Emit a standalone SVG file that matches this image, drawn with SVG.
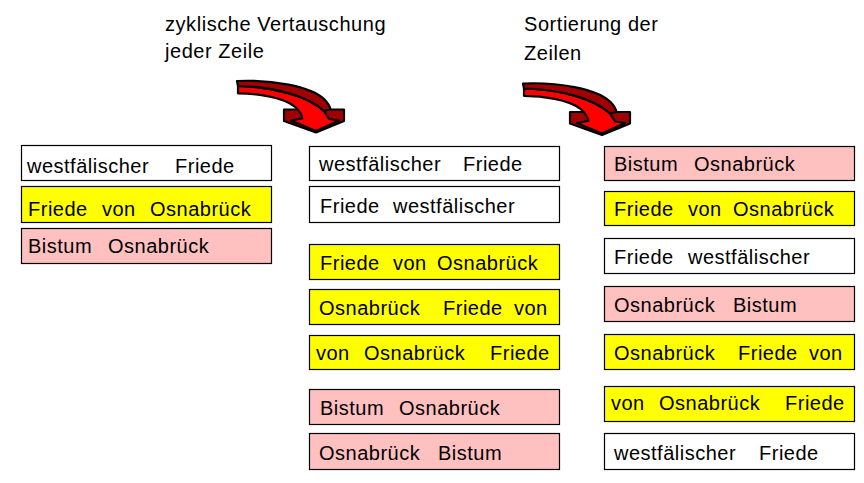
<svg xmlns="http://www.w3.org/2000/svg" width="864" height="483" viewBox="0 0 864 483">
  <style>
    .box rect { stroke: #000; stroke-width: 1.2; }
    .w rect { fill: #ffffff; }
    .y rect { fill: #ffff00; }
    .p rect { fill: #ffc0c0; }
    .box text { font-family: "Liberation Sans", Arial, sans-serif; font-size: 20px; letter-spacing: 0.5px; fill: #000; }
    .head { font-family: "Liberation Sans", Arial, sans-serif; font-size: 20px; letter-spacing: 0.55px; fill: #000; }
  </style>
  <defs>
    <!-- curved 3D arrow: dark head, bright shaft, dark top band -->
    <g id="bigArrow" stroke="#000" stroke-width="2.2" stroke-linejoin="round">
      <polygon points="52,34.5 112,34.5 112,46 84,57.5 52,46" fill="#a00000"/>
      <path d="M 6,11 C 40,12 75,20 92,36 L 97,44 L 107,45.5 L 84,56 L 59,45.5 L 70.3,43.5 C 70,40 68,36 62,31 C 50,22 25,18.5 6,18.3 Z" fill="#ff0000"/>
      <path d="M 5,6 C 40,4.5 78,11 92,24 C 96,28 98,32 98.5,34.5 L 92,36 C 75,20 40,12 6,11 Z" fill="#a00000"/>
    </g>
  </defs>

  <!-- headings -->
  <text class="head" x="165" y="31">zyklische Vertauschung</text>
  <text class="head" x="165" y="58">jeder Zeile</text>
  <text class="head" x="524" y="31">Sortierung der</text>
  <text class="head" x="524" y="60">Zeilen</text>

  <g id="connectors">
    <use href="#bigArrow" x="232" y="75"/>
    <use href="#bigArrow" x="518" y="77.5"/>
  </g>

  <!-- input lines -->
  <g id="in1" class="box w"><rect x="21.5" y="145.5" width="250" height="35"/><text y="173"><tspan x="27">westfälischer</tspan><tspan x="175">Friede</tspan></text></g>
  <g id="in2" class="box y"><rect x="21.5" y="186.5" width="250" height="36"/><text y="216"><tspan x="28">Friede</tspan><tspan x="102">von</tspan><tspan x="150">Osnabrück</tspan></text></g>
  <g id="in3" class="box p"><rect x="21.5" y="228.5" width="250" height="35"/><text y="253"><tspan x="28">Bistum</tspan><tspan x="108">Osnabrück</tspan></text></g>

  <!-- rotations -->
  <g id="rot1" class="box w"><rect x="309.5" y="146.5" width="250" height="34"/><text y="171"><tspan x="319">westfälischer</tspan><tspan x="463">Friede</tspan></text></g>
  <g id="rot2" class="box w"><rect x="309.5" y="186.5" width="250" height="36"/><text y="213"><tspan x="320">Friede</tspan><tspan x="393">westfälischer</tspan></text></g>
  <g id="rot3" class="box y"><rect x="309.5" y="244.5" width="250" height="35"/><text y="270"><tspan x="320">Friede</tspan><tspan x="393">von</tspan><tspan x="437">Osnabrück</tspan></text></g>
  <g id="rot4" class="box y"><rect x="309.5" y="289.5" width="250" height="35"/><text y="315"><tspan x="319">Osnabrück</tspan><tspan x="443">Friede</tspan><tspan x="514">von</tspan></text></g>
  <g id="rot5" class="box y"><rect x="309.5" y="335.5" width="250" height="34"/><text y="360"><tspan x="316">von</tspan><tspan x="364">Osnabrück</tspan><tspan x="490">Friede</tspan></text></g>
  <g id="rot6" class="box p"><rect x="309.5" y="389.5" width="250" height="35"/><text y="415"><tspan x="320">Bistum</tspan><tspan x="399">Osnabrück</tspan></text></g>
  <g id="rot7" class="box p"><rect x="309.5" y="433.5" width="250" height="36"/><text y="460"><tspan x="319">Osnabrück</tspan><tspan x="438">Bistum</tspan></text></g>

  <!-- sorted rotations -->
  <g id="srt1" class="box p"><rect x="604.5" y="146.5" width="250" height="34"/><text y="171"><tspan x="614">Bistum</tspan><tspan x="694">Osnabrück</tspan></text></g>
  <g id="srt2" class="box y"><rect x="604.5" y="191.5" width="250" height="34"/><text y="216"><tspan x="614">Friede</tspan><tspan x="688">von</tspan><tspan x="733">Osnabrück</tspan></text></g>
  <g id="srt3" class="box w"><rect x="604.5" y="238.5" width="250" height="35"/><text y="264"><tspan x="614">Friede</tspan><tspan x="688">westfälischer</tspan></text></g>
  <g id="srt4" class="box p"><rect x="604.5" y="286.5" width="250" height="35"/><text y="312"><tspan x="614">Osnabrück</tspan><tspan x="733">Bistum</tspan></text></g>
  <g id="srt5" class="box y"><rect x="604.5" y="334.5" width="250" height="35"/><text y="360"><tspan x="614">Osnabrück</tspan><tspan x="738">Friede</tspan><tspan x="809">von</tspan></text></g>
  <g id="srt6" class="box y"><rect x="604.5" y="386.5" width="250" height="35"/><text y="410"><tspan x="611">von</tspan><tspan x="659">Osnabrück</tspan><tspan x="785">Friede</tspan></text></g>
  <g id="srt7" class="box w"><rect x="604.5" y="433.5" width="250" height="36"/><text y="460"><tspan x="614">westfälischer</tspan><tspan x="759">Friede</tspan></text></g>
</svg>
